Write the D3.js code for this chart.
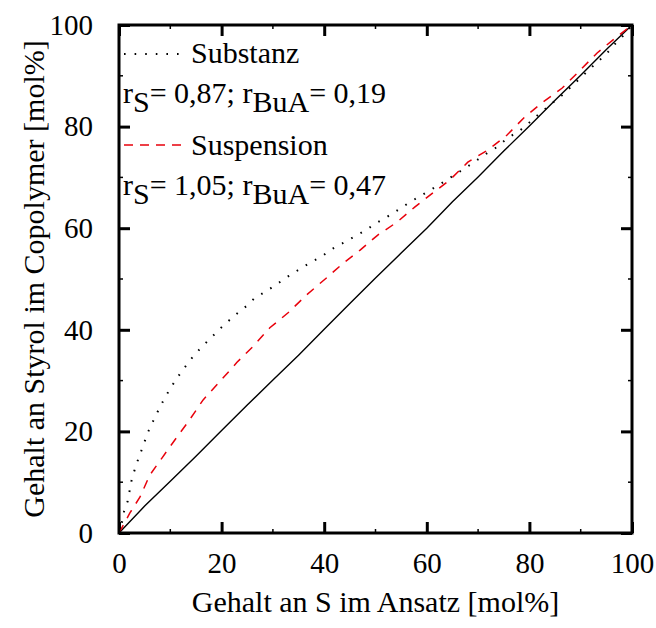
<!DOCTYPE html>
<html>
<head>
<meta charset="utf-8">
<script src="https://cdn.jsdelivr.net/npm/d3@7"></script>
</head>
<body style="margin:0">
<script>
// values (x = S im Ansatz, y = Styrol im Copolymer, mol%)
var idealX = [0, 5, 10, 15, 20, 25, 30, 35, 40, 45, 50, 55, 60, 65, 70, 75, 80, 85, 90, 95, 100];
var idealY = [0, 5.3, 10.2, 15.1, 20.2, 25.2, 30.1, 35.0, 40.1, 45.2, 50.2, 55.1, 60.0, 65.2, 70.1, 75.2, 80.1, 85.2, 90.1, 95.2, 100];

var substanzX = [0, 0.6, 1, 1.7, 2.1, 2.5, 3.1, 3.9, 4.7, 5.5, 6.4, 7.4, 8.4, 10, 12, 14, 16, 18, 20, 22.5, 25, 26.5, 28.7, 30.8, 33.1, 35.3, 37.4, 39.6, 41.5, 43.7, 45.8, 48.1, 50.1, 52.2, 54.4, 56.5, 60, 62.5, 65.1, 67.3, 69.2, 71.5, 73.7, 75.8, 78, 80, 81.9, 84.2, 86.4, 88.5, 90.6, 92.8, 95, 96.9, 98.8, 100];
var substanzY = [0, 2.2, 4.3, 6.3, 8.5, 10.6, 12.6, 15, 17.1, 19.5, 21.5, 23.6, 25.6, 28.5, 31.5, 34.2, 36.5, 38.5, 40.5, 42.8, 44.8, 46.3, 47.6, 49, 50.6, 52, 53.3, 54.5, 55.9, 57.1, 58.3, 59.6, 61, 62.2, 63.6, 65, 67.1, 68.6, 70.3, 71.7, 73, 74.6, 76, 77.8, 79.1, 80.8, 82.5, 84.4, 86.2, 88.2, 90.2, 92.3, 94.3, 96.5, 98.4, 100];

var suspensionX = [0, 2.1, 4.1, 6, 8.4, 11.3, 13.5, 16.4, 20, 23, 26, 29.4, 32.9, 36.6, 40.2, 43.7, 47, 50.5, 54.2, 57.7, 61, 64.5, 68, 71.9, 75.6, 79.1, 82.6, 86.4, 89.5, 93.2, 96.7, 100];
var suspensionY = [0, 3.9, 7.1, 11.4, 14.8, 18.9, 21.9, 26.2, 30.2, 33.6, 36.6, 40.4, 43.3, 46.9, 50, 53.1, 55.7, 58.7, 61.2, 64.2, 66.8, 69.5, 73, 75.4, 78.3, 81.9, 84.8, 87.6, 90.7, 94.5, 97.4, 100];

var tickValues = [0, 20, 40, 60, 80, 100];
var minorValues = [10, 30, 50, 70, 90];

var fontFam = '"Liberation Serif", "Times New Roman", Tinos, Times, serif';

var width = 656, height = 628;
var margin = { top: 25, right: 24, bottom: 95, left: 119 };
var plotW = width - margin.left - margin.right;
var plotH = height - margin.top - margin.bottom;

var svg = d3.select("body").append("svg")
  .attr("width", width)
  .attr("height", height)
  .style("font-family", fontFam)
  .style("display", "block");

var g = svg.append("g")
  .attr("transform", `translate(${margin.left}, ${margin.top})`);

var x = d3.scaleLinear().domain([0, 100]).range([0, plotW]);
var y = d3.scaleLinear().domain([0, 100]).range([plotH, 0]);

function pairs(xs, ys) {
  return xs.map(function(v, i) { return [v, ys[i]]; });
}

var line = d3.line()
  .x(d => x(d[0]))
  .y(d => y(d[1]));

// axes with inward ticks on all four sides
function styleAxis(sel) {
  sel.attr("font-family", null).attr("font-size", null);
  sel.select(".domain").remove();
  sel.selectAll("line").attr("stroke", "#000").attr("stroke-width", 3);
  sel.selectAll("text")
    .style("font-family", fontFam)
    .style("font-size", "29px")
    .attr("fill", "#000");
}

var bottomAxis = g.append("g")
  .attr("transform", `translate(0, ${plotH})`)
  .call(d3.axisBottom(x).tickValues(tickValues).tickSize(-11).tickPadding(19));
styleAxis(bottomAxis);
bottomAxis.selectAll("text").attr("dy", "0.71em");

var leftAxis = g.append("g")
  .call(d3.axisLeft(y).tickValues(tickValues).tickSize(-11).tickPadding(26));
styleAxis(leftAxis);

var topAxis = g.append("g")
  .call(d3.axisTop(x).tickValues(tickValues).tickSize(-11).tickFormat(""));
styleAxis(topAxis);

var rightAxis = g.append("g")
  .attr("transform", `translate(${plotW}, 0)`)
  .call(d3.axisRight(y).tickValues(tickValues).tickSize(-11).tickFormat(""));
styleAxis(rightAxis);

// minor ticks
[["bottom", x, plotH, -4], ["top", x, 0, 4]].forEach(function(s) {
  g.selectAll(".minor-" + s[0]).data(minorValues).enter().append("line")
    .attr("x1", d => s[1](d)).attr("x2", d => s[1](d))
    .attr("y1", s[2]).attr("y2", s[2] + s[3])
    .attr("stroke", "#000").attr("stroke-width", 1.5);
});
[["left", 0, 4], ["right", plotW, -4]].forEach(function(s) {
  g.selectAll(".minor-" + s[0]).data(minorValues).enter().append("line")
    .attr("y1", d => y(d)).attr("y2", d => y(d))
    .attr("x1", s[1]).attr("x2", s[1] + s[2])
    .attr("stroke", "#000").attr("stroke-width", 1.5);
});

// curves
g.append("path")
  .datum(pairs(idealX, idealY))
  .attr("d", line)
  .attr("fill", "none")
  .attr("stroke", "#000")
  .attr("stroke-width", 1.4);

g.append("path")
  .datum(pairs(suspensionX, suspensionY))
  .attr("d", line)
  .attr("fill", "none")
  .attr("stroke", "#e8000b")
  .attr("stroke-width", 1.5)
  .attr("stroke-dasharray", "9,8");

g.append("path")
  .datum(pairs(substanzX, substanzY))
  .attr("d", line)
  .attr("fill", "none")
  .attr("stroke", "#000")
  .attr("stroke-width", 2)
  .attr("stroke-dasharray", "1.6,9");

// frame
g.append("rect")
  .attr("x", 0).attr("y", 0)
  .attr("width", plotW).attr("height", plotH)
  .attr("fill", "none")
  .attr("stroke", "#000")
  .attr("stroke-width", 3);

// axis titles
svg.append("text")
  .attr("x", margin.left + plotW / 2)
  .attr("y", 612)
  .attr("text-anchor", "middle")
  .style("font-family", fontFam)
  .style("font-size", "30px")
  .text("Gehalt an S im Ansatz [mol%]");

svg.append("text")
  .attr("transform", `translate(44, ${margin.top + plotH / 2}) rotate(-90)`)
  .attr("text-anchor", "middle")
  .style("font-family", fontFam)
  .style("font-size", "30px")
  .text("Gehalt an Styrol im Copolymer [mol%]");

// legend
var legend = svg.append("g");

legend.append("line")
  .attr("x1", 124).attr("x2", 182).attr("y1", 54).attr("y2", 54)
  .attr("stroke", "#000").attr("stroke-width", 2)
  .attr("stroke-dasharray", "1.6,9");
legend.append("text")
  .attr("x", 191).attr("y", 63)
  .style("font-family", fontFam)
  .style("font-size", "30px")
  .text("Substanz");

legend.append("line")
  .attr("x1", 124).attr("x2", 182).attr("y1", 145).attr("y2", 145)
  .attr("stroke", "#e8000b").attr("stroke-width", 1.5)
  .attr("stroke-dasharray", "9,7");
legend.append("text")
  .attr("x", 191).attr("y", 155)
  .style("font-family", fontFam)
  .style("font-size", "30px")
  .text("Suspension");

function ratioLine(yPos, rS, rBuA) {
  var t = legend.append("text")
    .attr("x", 123).attr("y", yPos)
    .style("font-family", fontFam)
    .style("font-size", "30px");
  t.append("tspan").text("r");
  t.append("tspan").attr("dy", 9).text("S");
  t.append("tspan").attr("dy", -9).text("= " + rS + "; r");
  t.append("tspan").attr("dy", 9).text("BuA");
  t.append("tspan").attr("dy", -9).text("= " + rBuA);
}
ratioLine(103, "0,87", "0,19");
ratioLine(195, "1,05", "0,47");
</script>
</body>
</html>
